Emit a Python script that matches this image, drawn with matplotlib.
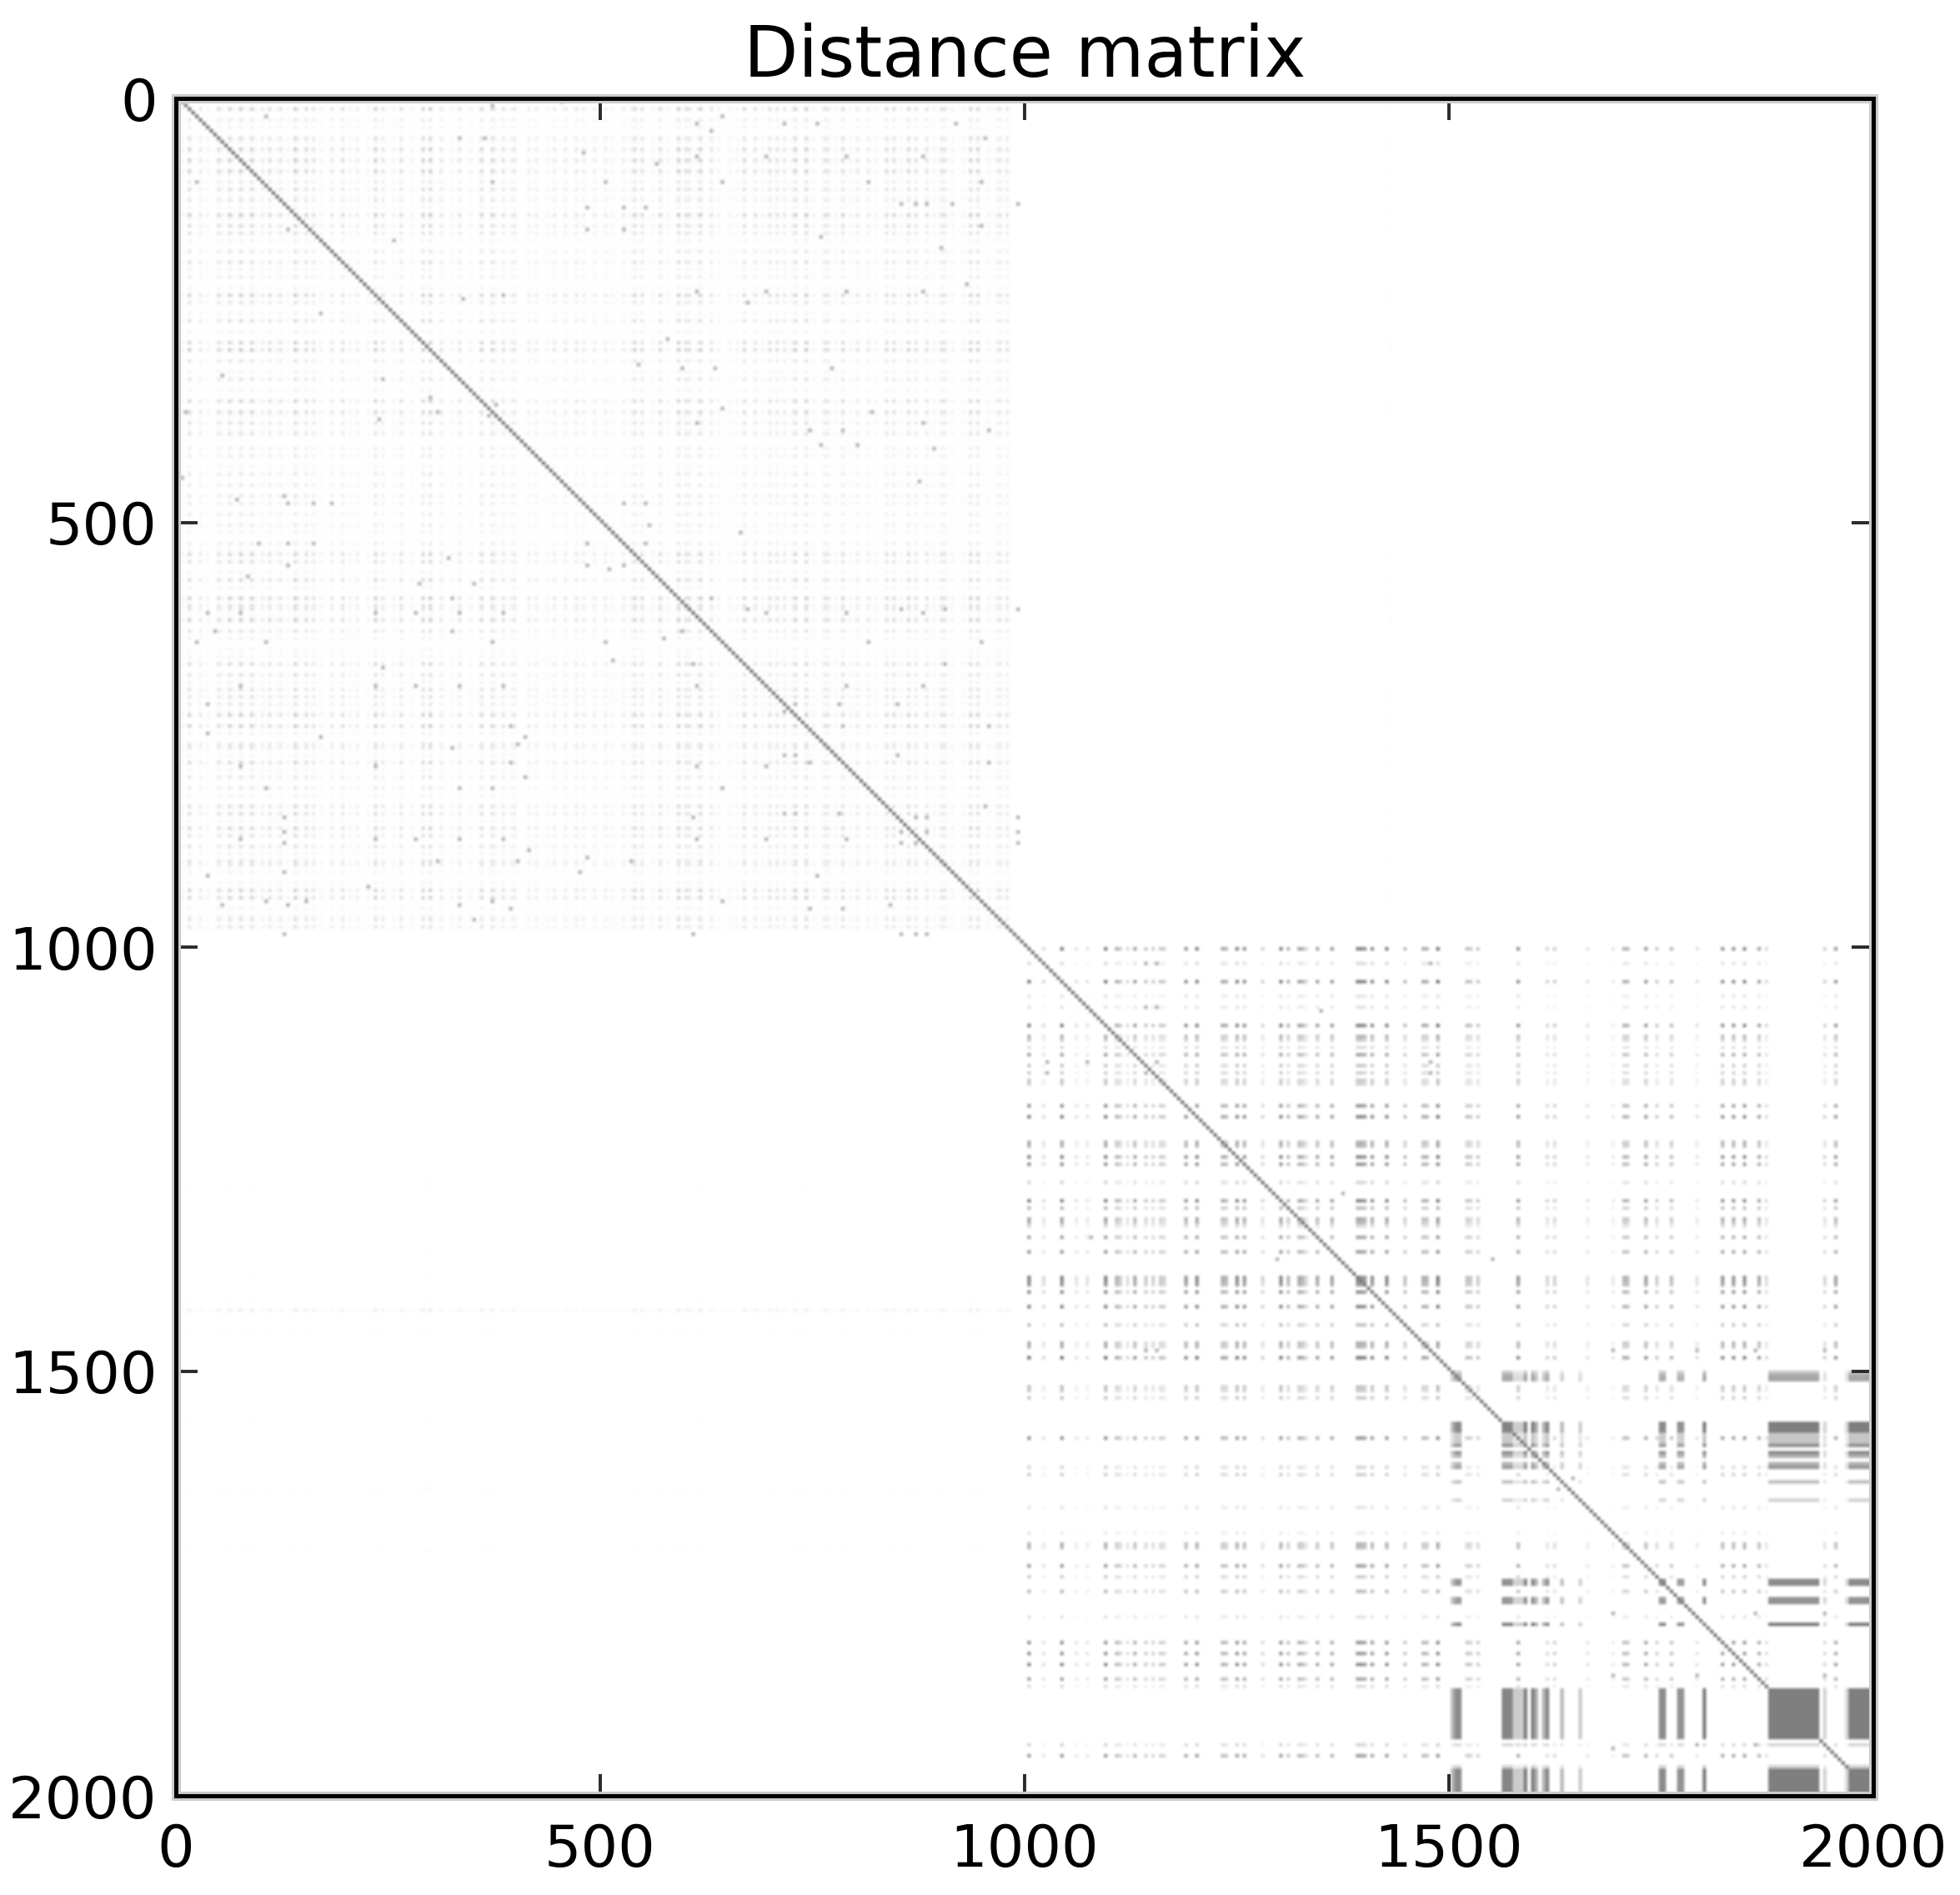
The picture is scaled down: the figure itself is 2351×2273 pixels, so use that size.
import numpy as np
import matplotlib
matplotlib.use("Agg")
import matplotlib.pyplot as plt
from matplotlib.patches import Rectangle

# faint rows/columns of the first block (index, strength)
first_idx = [15, 28, 48, 61, 74, 87, 101, 111, 123, 138, 153, 161, 182, 194, 214, 236, 245, 266, 289, 299,
             313, 335, 357, 370, 385, 399, 413, 424, 447, 460, 471, 481, 493, 507, 527, 540, 549, 571, 590, 600,
             606, 619, 631, 669, 681, 700, 707, 715, 731, 740, 762, 769, 785, 804, 814, 837, 846, 861, 873, 886,
             899, 906, 935, 944, 972, 977,
             7, 38, 55, 68, 80, 94, 117, 130, 145, 170, 205, 225, 255, 277, 325, 347, 378, 392, 435, 515,
             535, 560, 580, 612, 640, 650, 660, 690, 723, 752, 778, 795, 825, 855, 893, 915, 925, 955, 965]
first_w = [.8, .35, .6, .8, .85, .8, .35, .6, .45, .9, .65, .5, .4, .55, .3, .8, .45, .55, .75, .9,
           .4, .45, .7, .7, .5, .45, .3, .3, .35, .35, .4, .3, .3, .3, .3, .7, .55, .65, .85, .55,
           .5, .8, .45, .65, .5, .55, .5, .4, .8, .85, .5, .45, .65, .4, .35, .6, .6, .7, .5, .5,
           .5, .45, .75, .75, .5, .45,
           .17, .17, .17, .17, .17, .17, .17, .17, .17, .17, .17, .17, .17, .17, .17, .17, .17, .17, .17, .17,
           .17, .17, .17, .17, .17, .17, .17, .17, .17, .17, .17, .17, .17, .17, .17, .17, .17, .17, .17]

# rows/columns of the second block
second_idx = [1006, 1023, 1044, 1062, 1075, 1094, 1108, 1111, 1119, 1127, 1140, 1152, 1161, 1165, 1190, 1202,
              1232, 1236, 1248, 1257, 1281, 1302, 1311, 1321, 1325, 1331, 1344, 1360, 1391, 1394, 1398, 1402,
              1410, 1424, 1427, 1448, 1470, 1474, 1485, 1520, 1523, 1532, 1535, 1581, 1614, 1622, 1664, 1691,
              1707, 1711, 1731, 1744, 1760, 1790, 1823, 1835, 1848, 1863, 1873, 1943, 1956]
second_w = [.9, .25, .9, .2, .2, .9, .55, .4, .25, .65, .4, .35, .4, .35, .75, .85,
            .6, .55, .85, .75, .3, .85, .5, .65, .55, .25, .65, .7, .85, .85, .75, .75,
            .8, .8, .85, .45, .6, .55, .95, .45, .4, .4, .3, .75, .3, .35, .2, .15,
            .55, .5, .7, .35, .5, .2, .75, .75, .8, .65, .25, .3, .7]

# dark bands near the end of the matrix
band_start = [1500, 1504, 1562, 1575, 1587, 1596, 1602, 1608, 1612, 1629, 1650, 1746, 1767, 1800, 1875, 1941, 1967, 1971]
band_end = [1504, 1512, 1575, 1587, 1591, 1602, 1606, 1612, 1616, 1633, 1654, 1754, 1775, 1804, 1937, 1946, 1971, 2000]
band_row_w = [.45, .7, 1, .45, .85, .9, .6, .6, .8, .5, .35, .9, .85, 1, 1, .3, .35, 1]
band_col_w = [.55, .9, .95, .4, 1, 1, .6, .6, .95, .55, .4, .9, .85, 1, 1, .35, .3, 1]

# faint rows running across the lower left part
cross_rows = [1280, 1288, 1300, 1319, 1342, 1358, 1367, 1388, 1408, 1421, 1430, 1458, 1476, 1555, 1601, 1634, 1642, 1713]
cross_w = [.5, .5, .5, .4, .4, .4, .5, .5, .4, .6, 3.5, .7, .5, .7, .5, .4, .8, .8]
# faint columns running across the upper right part
upper_cols = [1061, 1150, 1230, 1389, 1429, 1555, 1602, 1718, 1874]
upper_w = [.6, .5, .6, .6, 1.6, .5, .5, .6, .4]

# single dark cells
outlier_row = [480, 480, 505, 513, 526, 526, 551, 555, 551, 592, 605, 609, 609, 605, 605, 605, 609, 630, 638, 642,
               642, 642, 664, 668, 668, 693, 693, 693, 714, 714, 714, 726, 742, 742, 776, 776, 776, 784, 784, 788,
               788, 813, 846, 846, 846, 850, 850, 850, 850, 838, 867, 867, 867, 876, 876, 876, 880, 880, 880, 897,
               901, 917, 947, 955, 955, 951, 988, 988, 988, 988,
               472, 480, 480, 480, 476, 526, 526, 526, 551, 564, 576, 592, 576, 543, 609, 609, 609, 609, 609, 609,
               630, 630, 642, 642, 642, 672, 693, 693, 693, 693, 693, 714, 751, 742, 755, 755, 763, 768, 788, 788,
               784, 800, 813, 813, 813, 851, 868, 880, 876, 876, 876, 876, 876, 888, 901, 901, 917, 913, 913, 930,
               947, 947, 947, 951, 951, 951, 955, 968, 988,
               22, 34, 34, 34, 34, 42, 51, 80, 72, 72, 72, 72, 101, 101, 101, 101, 130, 130, 130, 126,
               126, 126, 126, 126, 159, 159, 167, 151, 180, 230, 230, 230, 230, 222, 242, 284, 317, 322, 322, 322,
               393, 393, 393, 410, 410, 413, 384, 384, 367, 371, 455,
               9, 6, 22, 50, 50, 68, 100, 100, 159, 168, 239, 235, 255, 334, 330, 355, 372, 371, 380, 363,
               376, 451, 471,
               1076, 1022, 1022, 1072, 1072, 1022, 1138, 1138, 1138, 1138, 1150, 1150, 1150, 1346, 1476, 1476,
               1372, 1293, 1372, 1626, 1642, 1476, 1476, 1476, 1476, 1788, 1945, 1788, 1788, 1942, 1942, 1860, 1859, 1859]
outlier_col = [529, 553, 558, 666, 483, 553, 483, 508, 529, 632, 671, 695, 879, 853, 907, 991, 791, 596, 574, 504,
               816, 949, 516, 607, 907, 612, 791, 879, 779, 849, 729, 716, 787, 957, 716, 729, 849, 745, 957, 695,
               612, 645, 716, 729, 779, 607, 870, 883, 991, 954, 853, 883, 991, 612, 695, 791, 853, 870, 991, 483,
               537, 754, 645, 745, 787, 841, 853, 870, 883, 607,
               129, 133, 162, 183, 71, 133, 162, 98, 133, 83, 287, 324, 350, 321, 38, 74, 233, 283, 333, 387,
               45, 324, 24, 104, 371, 245, 75, 233, 283, 333, 387, 37, 37, 395, 171, 412, 400, 324, 75, 233,
               395, 412, 104, 333, 371, 129, 129, 129, 75, 233, 283, 333, 387, 416, 400, 308, 37, 129, 474, 224,
               104, 154, 371, 53, 133, 333, 395, 350, 129,
               645, 753, 920, 716, 612, 632, 953, 566, 612, 695, 791, 879, 645, 816, 949, 504, 483, 529, 553, 853,
               870, 883, 916, 991, 529, 483, 758, 949, 899, 612, 695, 791, 879, 932, 673, 579, 545, 595, 633, 770,
               745, 787, 957, 758, 803, 891, 612, 879, 645, 820, 874,
               374, 453, 104, 332, 363, 478, 25, 371, 132, 258, 337, 383, 170, 241, 54, 299, 12, 309, 237, 378,
               367, 7, 128,
               1348, 1141, 1153, 1141, 1153, 1479, 1024, 1074, 1153, 1478, 1024, 1141, 1478, 1079, 1141, 1153,
               1295, 1374, 1549, 1644, 1628, 1791, 1861, 1944, 1691, 1691, 1691, 1861, 1944, 1861, 1791, 1791, 1691, 1944]

x_ticks = [0, 500, 1000, 1500, 2000]
y_ticks = [0, 500, 1000, 1500, 2000]

n_points = 2000
n_cells = 465


def to_cell(idx):
    return np.minimum((np.asarray(idx) * n_cells / n_points).astype(int), n_cells - 1)


def band_cell(idx):
    return int(round(idx * n_cells / n_points))


def strengths(idx, w):
    out = np.zeros(n_cells)
    np.maximum.at(out, to_cell(idx), w)
    return out


w_first = strengths(first_idx, first_w)
w_second = strengths(second_idx, second_w)

band_r = np.zeros(n_cells)
band_c = np.zeros(n_cells)
for s, e, wr, wc in zip(band_start, band_end, band_row_w, band_col_w):
    c0, c1 = band_cell(s), max(band_cell(e), band_cell(s) + 1)
    band_r[c0:c1] = np.maximum(band_r[c0:c1], wr)
    band_c[c0:c1] = np.maximum(band_c[c0:c1], wc)

cut = to_cell(985)
dist = np.zeros((n_cells, n_cells))
dist[:cut, :cut] += 0.006
dist += 0.27 * np.outer(w_first, w_first)
dist += 0.6 * np.outer(w_second, w_second)
dist[to_cell(cross_rows), :cut] += 0.025 * (np.array(cross_w)[:, None] * np.maximum(w_first, 0.15)[None, :cut])
dist[:cut, to_cell(upper_cols)] += 0.012 * (np.maximum(w_first, 0.2)[:cut, None] * np.array(upper_w)[None, :])
band_part = 0.5 * np.outer(band_r, band_c)
dist = np.maximum(dist, band_part)
dist[to_cell(outlier_row), to_cell(outlier_col)] = 0.3
# the diagonal does not show up inside the dark blocks
diag = np.arange(n_cells)
dist[diag, diag] = np.where(band_part[diag, diag] >= 0.45, 0.5, 0.52)

fig = plt.figure(figsize=(23.51, 22.73), dpi=100)
ax = fig.add_axes([211 / 2351, (2273 - 2154) / 2273, 2036 / 2351, 2036 / 2273])
# the picture sits a little off the axes: about +1 in x, -1.5 in y
ax.imshow(dist, cmap="gray_r", vmin=0, vmax=1, interpolation="bilinear",
          extent=(1, n_points + 1, n_points - 1.5, -1.5), aspect="equal", zorder=0)
ax.set_xlim(0, n_points)
ax.set_ylim(n_points, 0)
ax.set_xticks(x_ticks)
ax.set_yticks(y_ticks)
ax.tick_params(direction="in", top=True, right=True, length=19, width=2.8, color="#2a2a2a",
               labelsize=50.5, zorder=3)
ax.tick_params(axis="x", pad=23)
ax.tick_params(axis="y", pad=16)
ax.set_title("Distance matrix", fontsize=61, pad=19)

# soft edge round the frame
ax.add_patch(Rectangle((0, 0), 1, 1, transform=ax.transAxes, fill=False, edgecolor="#cccccc",
                       linewidth=8, clip_on=False, zorder=2))
for spine in ax.spines.values():
    spine.set_linewidth(3.6)
    spine.set_zorder(4)

plt.savefig("out.png", dpi=100)
